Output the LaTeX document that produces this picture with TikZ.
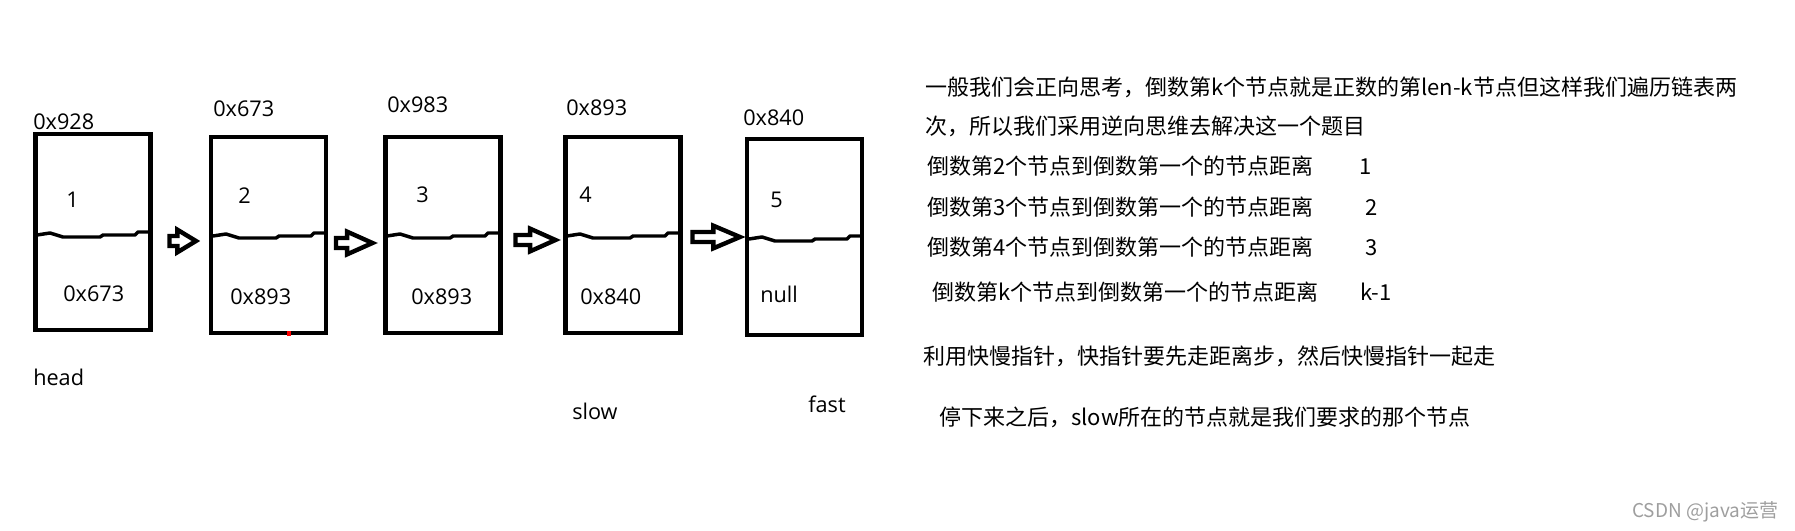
\documentclass[tikz,border=0pt]{standalone}
\usepackage{fontspec}
\setmainfont{Open Sans}
\newfontfamily\cjk{Noto Sans CJK SC}
\usetikzlibrary{calc}
\begin{document}
\begin{tikzpicture}[x=0.75pt,y=-0.75pt,
  listbox/.style={draw, line width=3.3pt, minimum width=86pt, minimum height=146.75pt, inner sep=0pt},
  divider/.style={line width=2.6pt, line join=round, line cap=round},
  lab/.style={inner sep=0pt, anchor=base west, font=\fontsize{16.25}{19}\selectfont},
  note/.style={inner sep=0pt, anchor=base west, font=\cjk\fontsize{16.5}{20}\selectfont},
  hollowarrow/.style={draw, line width=3.3pt, fill=white, line join=miter,
    to path={let \p1=(\tikztostart), \p2=(\tikztotarget) in
      (\x1,\y1+3.75pt) -- (\x2-#1,\y1+3.75pt) -- (\x2-#1,\y1+8.5pt) -- (\x2,\y1)
      -- (\x2-#1,\y1-8.5pt) -- (\x2-#1,\y1-3.75pt) -- (\x1,\y1-3.75pt) -- cycle}},
  hollowarrow/.default=18pt]
\useasboundingbox (0,0) rectangle (1795,531);

% boxes
\node[listbox] (n1) at (93,232) {};
\node[listbox] (n2) at (268.5,235) {};
\node[listbox] (n3) at (443,235) {};
\node[listbox] (n4) at (623,235) {};
\node[listbox] (n5) at (804.5,237) {};

% wavy dividers
\foreach \L/\D in {33/235, 209/236, 383/236, 563/236, 745/239}
  \draw[divider] (\L+4,\D) -- (\L+17,\D-2) -- (\L+30,\D+2) -- (\L+67,\D+2)
    -- (\L+70,\D) -- (\L+102,\D) -- (\L+105,\D-3) -- (\L+115,\D-3);

% arrows
\draw[hollowarrow=14pt] ($(n1.east)+(17,9)$) to ($(n2.west)+(-13,0)$);
\draw[hollowarrow=19pt] ($(n2.east)+(8,8)$) to ($(n3.west)+(-11,0)$);
\draw[hollowarrow=19pt] ($(n3.east)+(13,5)$) to ($(n4.west)+(-8,0)$);
\draw[hollowarrow=20pt] ($(n4.east)+(10,2)$) to ($(n5.west)+(-5,0)$);

% small red mark
\fill[red] (287,331) rectangle (291,336);

% addresses above
\node[lab] (a1) at (33,130) {0x928};
\node[lab] (a2) at (213,117) {0x673};
\node[lab] (a3) at (387,113) {0x983};
\node[lab] (a4) at (566,116) {0x893};
\node[lab] (a5) at (743,126) {0x840};

% values
\node[lab] (v1) at (66,208) {1};
\node[lab] (v2) at (238,204) {2};
\node[lab] (v3) at (416,202) {3};
\node[lab] (v4) at (579,202) {4};
\node[lab] (v5) at (770,207) {5};

% next pointers
\node[lab] (p1) at (63,301) {0x673};
\node[lab] (p2) at (230,304) {0x893};
\node[lab] (p3) at (411,304) {0x893};
\node[lab] (p4) at (580,304) {0x840};
\node[lab] (p5) at (760,302) {null};

% pointer names
\node[lab] (head) at (33,385) {head};
\node[lab] (slow) at (572,419) {slow};
\node[lab] (fast) at (808,412) {fast};

% explanation
\node[note] (t1) at (925,96) {一般我们会正向思考，倒数第k个节点就是正数的第len-k节点但这样我们遍历链表两};
\node[note] (t2) at (925,135) {次，所以我们采用逆向思维去解决这一个题目};
\node[note] (t3) at (927,175) {倒数第2个节点到倒数第一个的节点距离};
\node[note] (t4) at (927,215) {倒数第3个节点到倒数第一个的节点距离};
\node[note] (t5) at (927,255) {倒数第4个节点到倒数第一个的节点距离};
\node[note] (t6) at (932,300) {倒数第k个节点到倒数第一个的节点距离};
\node[note] (d1) at (1359,175) {1};
\node[note] (d2) at (1365,215) {2};
\node[note] (d3) at (1365,255) {3};
\node[note] (d4) at (1360,300) {k-1};
\node[note] (t7) at (923,364) {利用快慢指针，快指针要先走距离步，然后快慢指针一起走};
\node[note] (t8) at (939,425) {停下来之后，slow所在的节点就是我们要求的那个节点};

% watermark
\node[inner sep=0pt, anchor=base west, font=\cjk\fontsize{14.25}{17}\selectfont, text=black!38] (wm) at (1632,517) {CSDN @java运营};
\end{tikzpicture}
\end{document}
